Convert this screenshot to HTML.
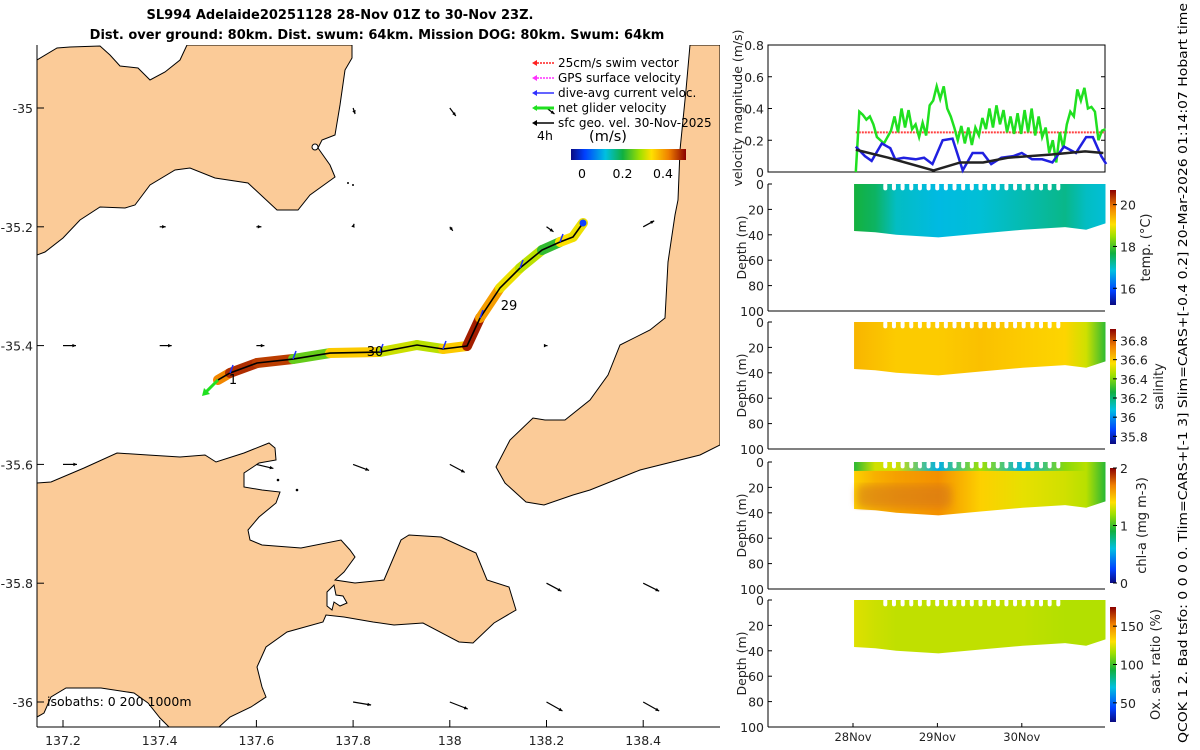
<!DOCTYPE html>
<html><head><meta charset="utf-8"><style>
html,body{margin:0;padding:0;background:#fff;}
svg{display:block;font-family:"DejaVu Sans","Liberation Sans",sans-serif;}
</style></head><body>
<svg id="fig" width="1200" height="750" viewBox="0 0 1200 750" xmlns="http://www.w3.org/2000/svg">
<defs>
 <linearGradient id="jetH" x1="0" y1="0" x2="1" y2="0">
  <stop offset="0" stop-color="#0a0a80"/><stop offset="0.12" stop-color="#0040ff"/><stop offset="0.3" stop-color="#00c0e0"/><stop offset="0.45" stop-color="#10b040"/><stop offset="0.6" stop-color="#a0e000"/><stop offset="0.7" stop-color="#ffe000"/><stop offset="0.85" stop-color="#f08000"/><stop offset="1" stop-color="#8b0000"/>
 </linearGradient>
 <linearGradient id="jetV" x1="0" y1="1" x2="0" y2="0">
  <stop offset="0" stop-color="#0a0a80"/><stop offset="0.12" stop-color="#0040ff"/><stop offset="0.3" stop-color="#00c0e0"/><stop offset="0.45" stop-color="#10b040"/><stop offset="0.6" stop-color="#a0e000"/><stop offset="0.7" stop-color="#ffe000"/><stop offset="0.85" stop-color="#f08000"/><stop offset="1" stop-color="#8b0000"/>
 </linearGradient>
 <filter id="blur4"><feGaussianBlur stdDeviation="4"/></filter>
 <clipPath id="mapclip"><rect x="37" y="45" width="683" height="682"/></clipPath>
</defs>
<g font-weight="bold" font-size="13" fill="#000">
 <text x="340" y="19" text-anchor="middle">SL994 Adelaide20251128 28-Nov 01Z to 30-Nov 23Z.</text>
 <text x="377" y="39" text-anchor="middle">Dist. over ground: 80km. Dist. swum: 64km. Mission DOG: 80km. Swum: 64km</text>
</g>
<g id="map" clip-path="url(#mapclip)">
 <path fill="#fbcb98" stroke="#000" stroke-width="1" d="M37,60 L57,48 L70,47 L100,46 L110,55 L120,66 L138,68 L150,80 L165,72 L180,60 L187,45 L352,45 L352,58 L345,70 L340,105 L335,135 L322,140 L318,148 L330,165 L335,177 L310,195 L298,210 L277,210 L248,183 L215,178 L190,168 L175,170 L150,185 L135,205 L125,208 L100,207 L80,220 L63,238 L45,252 L37,255 Z"/>
 <path fill="#fbcb98" stroke="#000" stroke-width="1" d="M690,45 L720,45 L720,445 L700,455 L640,470 L590,490 L573,495 L544,505 L526,502 L505,483 L496,467 L510,440 L533,418 L545,420 L565,420 L590,400 L608,375 L620,345 L650,330 L665,318 L668,262 L675,215 L678,200 L680,150 L686,90 Z"/>
 <path fill="#fbcb98" stroke="#000" stroke-width="1" d="M37,483 L51,482 L84,468 L117,453 L148,455 L180,457 L205,455 L216,462 L244,453 L269,443 L275,448 L276,460 L259,463 L244,473 L244,487 L262,490 L280,492 L276,503 L259,517 L248,530 L250,540 L262,545 L301,548 L341,540 L350,550 L355,557 L344,572 L335,580 L355,583 L384,580 L401,540 L409,535 L441,537 L476,553 L487,580 L509,587 L516,610 L494,623 L473,643 L459,642 L423,623 L394,625 L373,622 L344,617 L326,615 L323,622 L287,632 L266,647 L257,667 L262,687 L266,697 L251,707 L230,717 L219,727 L169,727 L160,718 L148,703 L134,693 L101,688 L66,688 L51,697 L44,713 L37,717 Z"/>
 <path fill="#fff" stroke="#000" stroke-width="1" d="M327,592 L334,585 L336,595 L343,596 L347,603 L340,606 L334,602 L332,610 L327,606 Z"/>
 <circle cx="315" cy="147" r="3" fill="#fff" stroke="#000"/>
 <circle cx="278" cy="480" r="1.3" fill="#000"/>
 <circle cx="297" cy="490" r="1.3" fill="#000"/>
 <circle cx="348" cy="183" r="1" fill="#000"/>
 <circle cx="353" cy="185" r="1" fill="#000"/>
 <g id="geoArrows"></g>
 <g id="track"></g>
</g>
<g id="mapAxes"></g>
<g id="mapLegend" font-size="12"></g>
<g id="velPanel"></g>
<g id="depthPanels"></g>
<text transform="translate(1187,373) rotate(-90)" text-anchor="middle" font-size="12.5" textLength="740" lengthAdjust="spacingAndGlyphs">QCOK 1  2. Bad tsfo: 0  0  0  0. Tlim=CARS+[-1 3] Slim=CARS+[-0.4 0.2] 20-Mar-2026 01:14:07 Hobart time</text>
</svg>
<script>
// ---------- MAP DATA ----------
const trackLon = [137.5206,137.5454,137.6012,137.6757,137.7522,137.8556,137.9322,137.9859,138.0356,138.0625,138.1038,138.1452,138.1907,138.2279,138.2548,138.2755];
const trackLat = [-35.4579,-35.4461,-35.4293,-35.4226,-35.4125,-35.4108,-35.3990,-35.4057,-35.4007,-35.3535,-35.3030,-35.2694,-35.2391,-35.2256,-35.2172,-35.1936];
const trackSpeed = [0.42,0.48,0.47,0.25,0.36,0.31,0.30,0.36,0.49,0.40,0.33,0.30,0.22,0.34,0.33];
const geoLon = [137.8,138.0,138.2, 137.4,137.6,137.8,138.0,138.2,138.4, 137.2,137.4,137.6,138.2, 137.2,137.6,137.8,138.0, 138.2,138.4, 137.8,138.0,138.2,138.4];
const geoLat = [-35.0,-35.0,-35.0, -35.2,-35.2,-35.2,-35.2,-35.2,-35.2, -35.4,-35.4,-35.4,-35.4, -35.6,-35.6,-35.6,-35.6, -35.8,-35.8, -36.0,-36.0,-36.0,-36.0];
const geoU = [0.02,0.06,0.08, 0.06,0.05,0.01,0.03,0.07,0.11, 0.13,0.12,0.08,0.01, 0.14,0.17,0.16,0.15, 0.15,0.16, 0.18,0.18,0.16,0.16];
const geoV = [-0.06,-0.08,-0.06, 0.0,0.0,0.03,-0.04,-0.05,0.06, 0.0,0.0,0.0,0.0, 0.0,-0.04,-0.06,-0.08, -0.08,-0.08, -0.03,-0.07,-0.09,-0.09];
const lonTicks = [137.2,137.4,137.6,137.8,138,138.2,138.4];
const latTicks = [-35,-35.2,-35.4,-35.6,-35.8,-36];
const cbTicks = [0,0.2,0.4];
// ---------- TIME SERIES DATA (hours since 28-Nov 00Z) ----------
const greenVals = [0,0.38,0.36,0.33,0.35,0.3,0.22,0.2,0.18,0.22,0.26,0.35,0.25,0.40,0.28,0.39,0.27,0.30,0.22,0.31,0.23,0.42,0.45,0.54,0.46,0.54,0.40,0.35,0.28,0.20,0.29,0.18,0.28,0.17,0.28,0.23,0.34,0.27,0.40,0.28,0.42,0.30,0.39,0.25,0.35,0.24,0.37,0.24,0.39,0.25,0.40,0.23,0.35,0.22,0.28,0.12,0.20,0.06,0.25,0.15,0.30,0.38,0.35,0.52,0.45,0.53,0.40,0.41,0.38,0.20,0.26,0.27];
const blueHours = [0,2.6,4.5,7.4,9.8,11.2,13.6,17,19.4,21.8,24.7,27.5,30.4,33.2,36.1,38.5,41.4,44.8,47.2,50.1,53,55.9,59.2,62.6,65.5,67.4,69.8,71.2];
const blueVals = [0.16,0.10,0.07,0.18,0.15,0.08,0.09,0.08,0.09,0.05,0.20,0.21,0.01,0.12,0.12,0.05,0.09,0.10,0.12,0.08,0.08,0.06,0.16,0.12,0.22,0.22,0.10,0.05];
const blackHours = [0.8,10,22.9,30.5,37,44,56.5,66,71.2];
const blackVals = [0.14,0.09,0.01,0.06,0.06,0.09,0.11,0.13,0.12];
const swimVal = 0.25;
const velTicks = [0,0.2,0.4,0.6,0.8];
const dayTicks = ['28Nov','29Nov','30Nov'];
const depthTicks = [0,20,40,60,80,100];
// section data
const secHours = [0,6,12,24,36,48,60,66,71.5];
const bottomDepth = [37,38,40,42,39,36,34,36,31];
const tempVals = [17.7,17.5,17.0,16.8,16.9,17.1,17.3,17.0,16.9];
const salVals = [36.64,36.62,36.6,36.6,36.62,36.6,36.58,36.5,36.3];
const chlVals = [1.45,1.55,1.6,1.65,1.45,1.35,1.3,1.25,0.95];
const chlSurf = [0.95,1.3,1.3,0.55,1.2,0.55,1.15,1.25,0.95];
const oxVals = [125,122,120,120,120,120,118,118,118];
const tempTicks = [16,18,20], salTicks = [35.8,36,36.2,36.4,36.6,36.8], chlTicks = [0,1,2], oxTicks = [50,100,150];
const diveStart = 9.1, diveStep = 2.46, diveCount = 21;

const NS = 'http://www.w3.org/2000/svg';
function mk(tag, attrs, parent){const e=document.createElementNS(NS,tag);for(const k in attrs)e.setAttribute(k,attrs[k]);parent.appendChild(e);return e;}
const X = lon => 63 + (lon-137.2)*483.5;
const Y = lat => 108 + (-35-lat)*594;
const stops=[[0,[10,10,128]],[0.12,[0,64,255]],[0.3,[0,192,224]],[0.45,[16,176,64]],[0.6,[160,224,0]],[0.7,[255,224,0]],[0.85,[240,128,0]],[1,[139,0,0]]];
function cmap(f){f=Math.max(0,Math.min(1,f));for(let i=1;i<stops.length;i++){if(f<=stops[i][0]){const a=stops[i-1],b=stops[i],t=(f-a[0])/(b[0]-a[0]);const c=a[1].map((v,j)=>Math.round(v+(b[1][j]-v)*t));return `rgb(${c})`;}}return 'rgb(139,0,0)';}

// geo arrows
const ga=document.getElementById('geoArrows');
for(let i=0;i<geoLon.length;i++){
 const x0=X(geoLon[i]),y0=Y(geoLat[i]),x1=x0+geoU[i]*100,y1=y0-geoV[i]*100;
 const g=mk('g',{},ga);
 
 
 mk('line',{x1:x0,y1:y0,x2:x1,y2:y1,stroke:'#000','stroke-width':1.2},g);
 const ang=Math.atan2(y1-y0,x1-x0),h=4;
 mk('path',{d:`M${x1},${y1} L${x1-h*Math.cos(ang-0.45)},${y1-h*Math.sin(ang-0.45)} L${x1-h*Math.cos(ang+0.45)},${y1-h*Math.sin(ang+0.45)} Z`,fill:'#000'},g);
}
// track
const tr=document.getElementById('track');
for(let i=0;i<trackSpeed.length;i++){
 const s=mk('line',{x1:X(trackLon[i]),y1:Y(trackLat[i]),x2:X(trackLon[i+1]),y2:Y(trackLat[i+1]),stroke:cmap((trackSpeed[i]+0.054)/0.564),'stroke-width':10,'stroke-linecap':'round'},tr);
 
 
}
let pts=trackLon.map((l,i)=>X(l)+','+Y(trackLat[i])).join(' ');
const tl=mk('polyline',{points:pts,fill:'none',stroke:'#000','stroke-width':1.6},tr);


const endDot=mk('circle',{cx:X(trackLon[15]),cy:Y(trackLat[15]),r:3.5,fill:'#1040ff'},tr);


for(let i=1;i<trackLon.length-1;i+=2){
 const x=X(trackLon[i]),y=Y(trackLat[i]);
 const b=mk('line',{x1:x,y1:y,x2:x+3,y2:y-8,stroke:'#2030ff','stroke-width':1.5},tr);
 
 
}
const gArr=mk('path',{d:`M${X(trackLon[0])},${Y(trackLat[0])} L${X(trackLon[0])-13},${Y(trackLat[0])+13}`,stroke:'#20e020','stroke-width':3},tr);


const gHead=mk('path',{d:`M${X(trackLon[0])-16},${Y(trackLat[0])+16} l2,-8 l6,6 Z`,fill:'#20e020'},tr);


[['1',233,384],['30',375,356],['29',509,310]].forEach(d=>{
 const t=mk('text',{x:d[1],y:d[2],'font-size':13,'text-anchor':'middle'},tr);t.textContent=d[0];
 
 
});
// map axes
const ma=document.getElementById('mapAxes');
mk('line',{x1:37,y1:45,x2:37,y2:727,stroke:'#000'},ma);
mk('line',{x1:37,y1:727,x2:720,y2:727,stroke:'#000'},ma);
lonTicks.forEach(v=>{const x=X(v);mk('line',{x1:x,y1:727,x2:x,y2:720,stroke:'#000'},ma);
 const t=mk('text',{x:x,y:745,'font-size':12.5,'text-anchor':'middle',fill:'#222'},ma);t.textContent=String(v);
 
 });
latTicks.forEach(v=>{const y=Y(v);mk('line',{x1:37,y1:y,x2:44,y2:y,stroke:'#000'},ma);
 const t=mk('text',{x:33,y:y+5,'font-size':12.5,'text-anchor':'end',fill:'#222'},ma);t.textContent=String(v);
 
 });
const iso=mk('text',{x:47,y:706,'font-size':12.5,fill:'#000'},ma);iso.textContent='isobaths: 0   200  1000m';


// legend
const lg=document.getElementById('mapLegend');
const legItems=[['25cm/s swim vector','#ff2020'],['GPS surface velocity','#ff30ff'],['dive-avg current veloc.','#3030ff'],['net glider velocity','#20e020'],['sfc geo. vel. 30-Nov-2025','#000']];
legItems.forEach((d,i)=>{const y=62+i*15;
 const g=mk('g',{},lg);
 
 
 mk('line',{x1:534,y1:y+1,x2:554,y2:y+1,stroke:d[1],'stroke-width':i==3?3:1.5,'stroke-dasharray':i<2?'2,1':''},g);
 mk('path',{d:`M532,${y+1} l5,-3 l0,6 Z`,fill:d[1]},g);
 const t=mk('text',{x:558,y:y+5,fill:'#000'},g);t.textContent=d[0];});
const t4=mk('text',{x:537,y:140,'font-size':12.5},lg);t4.textContent='4h';


const ut=mk('text',{x:608,y:141,'font-size':14.5,'text-anchor':'middle'},lg);ut.textContent='(m/s)';


const cb=mk('rect',{x:571,y:149,width:115,height:11,fill:'url(#jetH)'},lg);


cbTicks.forEach(v=>{const x=582+v*202.5;
 const t=mk('text',{x:x,y:178,'font-size':12.5,'text-anchor':'middle'},lg);t.textContent=String(v);
 
 });

// ---------- VELOCITY PANEL ----------
const T = h => 853 + h*84.4/24;
const V = v => 172 - v*158.75;
const vp=document.getElementById('velPanel');
mk('rect',{x:768,y:45,width:337,height:127,fill:'none',stroke:'#000'},vp);
velTicks.forEach(v=>{const y=V(v);mk('line',{x1:768,y1:y,x2:772,y2:y,stroke:'#000'},vp);mk('line',{x1:1101,y1:y,x2:1105,y2:y,stroke:'#000'},vp);
 const t=mk('text',{x:764,y:y+5,'font-size':12.5,'text-anchor':'end',fill:'#222'},vp);t.textContent=String(v);
 
 });
const vl=mk('text',{transform:'translate(742,108) rotate(-90)','font-size':12.5,'text-anchor':'middle',fill:'#222'},vp);vl.textContent='velocity magnitude (m/s)';


const sw=mk('line',{x1:T(0.8),y1:V(swimVal),x2:1105,y2:V(swimVal),stroke:'#ff4040','stroke-width':2,'stroke-dasharray':'2,1'},vp);


const gl=mk('polyline',{points:greenVals.map((v,i)=>T(0.8+i)+','+V(v)).join(' '),fill:'none',stroke:'#20e020','stroke-width':2.5},vp);


const bl=mk('polyline',{points:blueVals.map((v,i)=>T(blueHours[i]+0.8)+','+V(v)).join(' '),fill:'none',stroke:'#2020e0','stroke-width':2.5},vp);


const kl=mk('polyline',{points:blackVals.map((v,i)=>T(blackHours[i])+','+V(v)).join(' '),fill:'none',stroke:'#222','stroke-width':2.5},vp);



// ---------- DEPTH PANELS ----------
const dp=document.getElementById('depthPanels');
const panels=[
 {top:184,vals:tempVals,min:15.2,max:20.7,cbTop:190,cbBot:305,ticks:tempTicks,label:'temp. (°C)',lx:1150,name:'temperature'},
 {top:322,vals:salVals,min:35.72,max:36.92,cbTop:329,cbBot:444,ticks:salTicks,label:'salinity',lx:1163,name:'salinity'},
 {top:462,vals:chlVals,min:0,max:2.0,cbTop:468,cbBot:583,ticks:chlTicks,label:'chl-a (mg m-3)',lx:1146,name:'chlorophyll'},
 {top:600,vals:oxVals,min:25,max:175,cbTop:607,cbBot:722,ticks:oxTicks,label:'Ox. sat. ratio (%)',lx:1160,name:'oxygen'}
];
panels.forEach((p,pi)=>{
 const D=d=>p.top+d*1.27;
 const g=mk('g',{},dp);
 
 
 mk('line',{x1:768,y1:D(0),x2:768,y2:D(100),stroke:'#000'},g);
 mk('line',{x1:768,y1:D(100),x2:1105,y2:D(100),stroke:'#000'},g);
 depthTicks.forEach(d=>{mk('line',{x1:768,y1:D(d),x2:772,y2:D(d),stroke:'#000'},g);
  const t=mk('text',{x:764,y:D(d)+5,'font-size':12.5,'text-anchor':'end',fill:'#222'},g);t.textContent=String(d);
  
  });
 const yl=mk('text',{transform:`translate(746,${D(50)}) rotate(-90)`,'font-size':12.5,'text-anchor':'middle',fill:'#222'},g);yl.textContent='Depth (m)';
 
 
 const gid='sec'+pi;const lgr=mk('linearGradient',{id:gid,x1:0,y1:0,x2:1,y2:0},document.querySelector('defs'));
 const h0=secHours[0],h1=secHours[secHours.length-1];
 p.vals.forEach((v,i)=>mk('stop',{offset:(secHours[i]-h0)/(h1-h0),'stop-color':cmap((v-p.min)/(p.max-p.min))},lgr));
 let poly=`${T(h0+0.3)},${D(0)} ${T(h1+0.3)},${D(0)} `+secHours.slice().reverse().map((h,i)=>T(h+0.3)+','+D(bottomDepth[bottomDepth.length-1-i])).join(' ');
 const band=mk('polygon',{points:poly,fill:`url(#${gid})`},g);
 
 
 if(pi===2){
  const sid='secS';const sg=mk('linearGradient',{id:sid,x1:0,y1:0,x2:1,y2:0},document.querySelector('defs'));
  chlSurf.forEach((v,i)=>mk('stop',{offset:(secHours[i]-h0)/(h1-h0),'stop-color':cmap(v/2)},sg));
  const s=mk('rect',{x:T(h0+0.3),y:D(0),width:T(h1+0.3)-T(h0+0.3),height:1.27*7,fill:`url(#${sid})`},g);
  
  
  const ob=mk('rect',{x:T(1),y:D(18),width:T(28)-T(1),height:1.27*18,fill:'#d2741e',opacity:0.55,rx:6,filter:'url(#blur4)'},g);
  
  
 }
 for(let k=0;k<diveCount;k++){const x=T(diveStart+k*diveStep)+0.3;
  const n=mk('rect',{x:x-2,y:D(0)-1,width:4,height:1.27*5+1,fill:'#fff',rx:2},g);
  
  }
 const c=mk('rect',{x:1110,y:p.cbTop,width:6,height:p.cbBot-p.cbTop,fill:'url(#jetV)'},g);
 
 
 p.ticks.forEach(v=>{const y=p.cbBot-(v-p.min)/(p.max-p.min)*(p.cbBot-p.cbTop);
  mk('line',{x1:1113,y1:y,x2:1117,y2:y,stroke:'#000'},g);
  const t=mk('text',{x:1120,y:y+5,'font-size':12.5,fill:'#222'},g);t.textContent=String(v);
  
  });
 const cl=mk('text',{transform:`translate(${p.lx},${(p.cbTop+p.cbBot)/2}) rotate(-90)`,'font-size':13,'text-anchor':'middle',fill:'#222'},g);cl.textContent=p.label;
 
 
});
dayTicks.forEach((d,i)=>{const x=T(i*24);
 mk('line',{x1:x,y1:727,x2:x,y2:723,stroke:'#000'},dp);
 const t=mk('text',{x:x,y:741,'font-size':11.5,'text-anchor':'middle',fill:'#222'},dp);t.textContent=d;
 
 });
</script>
</body></html>
